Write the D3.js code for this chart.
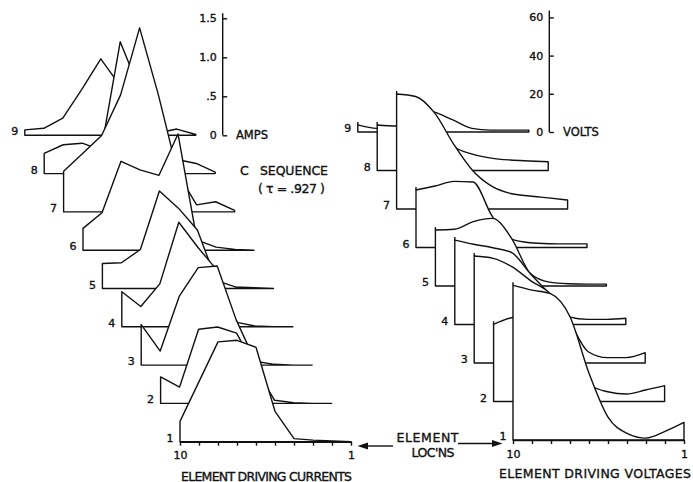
<!DOCTYPE html>
<meta charset="utf-8">
<script src="https://d3js.org/d3.v7.min.js"></script>
<style>
  body { margin: 0; background: #fff; }
  svg text { font-family: "DejaVu Sans", sans-serif; fill: #111; stroke: #111; stroke-width: 0.35px; }
  .prof { fill: #fff; stroke: #111; stroke-width: 1.4; stroke-linejoin: round; }
  .ax path, .ax line { stroke: #111; stroke-width: 1.4; }
</style>
<body>
<script>
// element locations, left (10) to right (1)
var elements = [10, 9, 8, 7, 6, 5, 4, 3, 2, 1];
var profiles = [1, 2, 3, 4, 5, 6, 7, 8, 9];

// element driving currents (amps), elements 10..1
var amps1 = [0.26, 0.77, 1.28, 1.30, 1.21, 0.39, 0.04, 0.02, 0.01, 0.00];
var amps2 = [0.34, 0.21, 0.95, 0.98, 0.90, 0.45, 0.04, 0.01, 0.00, 0.00];
var amps3 = [0.52, 0.18, 0.88, 1.25, 1.27, 0.58, 0.05, 0.01, 0.00, 0.00];
var amps4 = [0.45, 0.26, 0.55, 1.34, 1.02, 0.73, 0.06, 0.01, 0.00, 0.00];
var amps5 = [0.32, 0.33, 0.50, 1.25, 1.03, 0.75, 0.10, 0.02, 0.01, 0.00];
var amps6 = [0.28, 0.48, 1.14, 1.03, 0.96, 1.49, 0.13, 0.04, 0.01, 0.00];
var amps7 = [0.52, 0.75, 0.98, 1.50, 2.36, 1.49, 0.50, 0.09, 0.13, 0.02];
var amps8 = [0.26, 0.37, 0.39, 0.30, 1.69, 1.09, 0.60, 0.18, 0.13, 0.02];
var amps9 = [0.07, 0.09, 0.22, 0.59, 0.98, 0.64, 0.30, 0.03, 0.08, 0.01];
var currents = [amps1, amps2, amps3, amps4, amps5, amps6, amps7, amps8, amps9];

// element driving voltages (volts), elements 10..1
var volts1 = [81.0, 78.5, 76.5, 64.5, 35.0, 12.0, 3.5, 1.0, 4.5, 9.2];
var volts2 = [40.4, 44.0, 45.0, 40.0, 30.0, 9.0, 5.1, 3.9, 6.0, 8.3];
var volts3 = [56.0, 54.8, 50.3, 42.9, 36.3, 22.0, 5.9, 2.8, 2.8, 5.4];
var volts4 = [44.2, 42.0, 40.2, 37.6, 26.3, 15.8, 4.0, 2.7, 2.7, 3.3];
var volts5 = [29.3, 29.7, 33.7, 35.4, 25.1, 6.5, 2.0, 1.2, 1.0, 1.0];
var volts6 = [30.1, 32.2, 34.6, 34.3, 16.5, 4.5, 2.5, 2.0, 1.9, 1.9];
var volts7 = [60.2, 58.9, 50.3, 34.0, 20.2, 12.0, 8.1, 6.8, 5.8, 4.7];
var volts8 = [23.8, 23.3, 25.0, 28.0, 12.8, 8.6, 6.5, 5.5, 5.0, 4.6];
var volts9 = [3.7, 1.9, 2.5, 12.0, 10.5, 6.3, 1.9, 1.0, 1.0, 1.0];
var voltages = [volts1, volts2, volts3, volts4, volts5, volts6, volts7, volts8, volts9];

var ampTicks = [0, 0.5, 1.0, 1.5];
var ampTickLabels = ["0", ".5", "1.0", "1.5"];
var voltTicks = [0, 20, 40, 60];

var W = 693, H = 482;
var svg = d3.select("body").append("svg")
  .attr("width", W).attr("height", H);

// ---------- left panel: currents ----------
var xEl = d3.scaleLinear().domain([10, 1]).range([0, 171]);
var offL = d3.scaleLinear().domain([1, 9]).range([180, 24.8]);
var baseL = d3.scaleLinear().domain([1, 9]).range([441.7, 135.3]);
var hA = d3.scaleLinear().domain([0, 1.5]).range([0, 117]);

var gL = svg.append("g");
// draw back to front so nearer profiles hide the ones behind
profiles.slice().reverse().forEach(function(k) {
  var x0 = offL(k), b = baseL(k);
  var area = d3.area()
    .x(function(d, j) { return x0 + xEl(elements[j]); })
    .y0(b)
    .y1(function(d) { return b - hA(d); });
  gL.append("path").attr("class", "prof").attr("d", area(currents[k - 1]));
  gL.append("text")
    .attr("x", x0 - 10).attr("y", b - 3.5)
    .attr("text-anchor", "middle").attr("dominant-baseline", "central")
    .style("font-size", "11px").text(k);
});

// element axis under profile 1
var xAxL = d3.scaleLinear().domain([10, 1]).range([offL(1), offL(1) + 171]);
gL.append("g").attr("class", "ax")
  .attr("transform", "translate(0," + baseL(1) + ")")
  .call(d3.axisBottom(xAxL).tickValues(elements).tickSizeInner(4).tickSizeOuter(0)
    .tickPadding(6).tickFormat(function(d) { return (d === 10 || d === 1) ? d : ""; }))
  .call(function(g) { g.selectAll("text").style("font-size", "11px").attr("font-family", null); });

// amps axis
var yAmp = d3.scaleLinear().domain([0, 1.5]).range([baseL(9), baseL(9) - 117]);
gL.append("line").attr("x1", 222.7).attr("x2", 222.7)
  .attr("y1", yAmp(1.5) - 5).attr("y2", yAmp(0)).attr("stroke", "#111").attr("stroke-width", 1.4);
gL.append("g").attr("class", "ax")
  .attr("transform", "translate(222.7,0)")
  .call(d3.axisLeft(yAmp).tickValues(ampTicks).tickSizeInner(-4.5).tickSizeOuter(0).tickPadding(6)
    .tickFormat(function(d, i) { return ampTickLabels[i]; }))
  .call(function(g) { g.select(".domain").remove(); g.selectAll("text").style("font-size", "11px").attr("font-family", null); });
gL.append("text").attr("x", 236).attr("y", yAmp(0)).attr("dominant-baseline", "central")
  .style("font-size", "11.5px").text("AMPS");

gL.append("text").attr("x", 240).attr("y", 170).attr("dominant-baseline", "central")
  .style("font-size", "12.5px").text("C");
gL.append("text").attr("x", 260).attr("y", 170).attr("dominant-baseline", "central")
  .attr("textLength", 68).style("font-size", "12.5px").text("SEQUENCE");
gL.append("text").attr("x", 258).attr("y", 188.5).attr("dominant-baseline", "central")
  .attr("textLength", 67).style("font-size", "12.5px").text("( τ = .927 )");

gL.append("text").attr("x", 181).attr("y", 480.5)
  .attr("textLength", 171).attr("lengthAdjust", "spacing")
  .style("font-size", "12.5px").text("ELEMENT DRIVING CURRENTS");

// ---------- right panel: voltages ----------
var offR = d3.scaleLinear().domain([1, 9]).range([513, 357.8]);
var baseR = d3.scaleLinear().domain([1, 9]).range([440, 132]);
var hV = d3.scaleLinear().domain([0, 60]).range([0, 114.6]);

var gR = svg.append("g");
profiles.slice().reverse().forEach(function(k) {
  var x0 = offR(k), b = baseR(k), v = voltages[k - 1];
  var area = d3.area()
    .x(function(d, j) { return x0 + xEl(elements[j]); })
    .y0(b)
    .y1(function(d) { return b - hV(d); })
    .curve(d3.curveMonotoneX);
  gR.append("path").attr("class", "prof").attr("d", area(v));
  // the left edge runs a little past the curve
  gR.append("line").attr("x1", x0).attr("x2", x0)
    .attr("y1", b - hV(v[0])).attr("y2", b - hV(v[0]) - 3)
    .attr("stroke", "#111").attr("stroke-width", 1.4);
  gR.append("text")
    .attr("x", x0 - 10).attr("y", b - 3.5)
    .attr("text-anchor", "middle").attr("dominant-baseline", "central")
    .style("font-size", "11px").text(k);
});

var xAxR = d3.scaleLinear().domain([10, 1]).range([offR(1), offR(1) + 171]);
gR.append("g").attr("class", "ax")
  .attr("transform", "translate(0," + baseR(1) + ")")
  .call(d3.axisBottom(xAxR).tickValues(elements).tickSizeInner(4).tickSizeOuter(0)
    .tickPadding(6).tickFormat(function(d) { return (d === 10 || d === 1) ? d : ""; }))
  .call(function(g) { g.selectAll("text").style("font-size", "11px").attr("font-family", null); });

var yVolt = d3.scaleLinear().domain([0, 60]).range([baseR(9), baseR(9) - 114.6]);
gR.append("line").attr("x1", 549.3).attr("x2", 549.3)
  .attr("y1", yVolt(60) - 7).attr("y2", yVolt(0)).attr("stroke", "#111").attr("stroke-width", 1.4);
gR.append("g").attr("class", "ax")
  .attr("transform", "translate(549.3,0)")
  .call(d3.axisLeft(yVolt).tickValues(voltTicks).tickSizeInner(-4.5).tickSizeOuter(0).tickPadding(6)
    .tickFormat(d3.format("d")))
  .call(function(g) { g.select(".domain").remove(); g.selectAll("text").style("font-size", "11px").attr("font-family", null); });
gR.append("text").attr("x", 563).attr("y", yVolt(0)).attr("dominant-baseline", "central")
  .style("font-size", "11.5px").text("VOLTS");

gR.append("text").attr("x", 499).attr("y", 477.5)
  .attr("textLength", 192).attr("lengthAdjust", "spacing")
  .style("font-size", "12.5px").text("ELEMENT DRIVING VOLTAGES");

// element loc'ns with arrows
svg.append("text").attr("x", 427.5).attr("y", 437).attr("text-anchor", "middle")
  .attr("dominant-baseline", "central").attr("textLength", 62)
  .style("font-size", "12.5px").text("ELEMENT");
svg.append("text").attr("x", 433).attr("y", 452).attr("text-anchor", "middle")
  .attr("dominant-baseline", "central").attr("textLength", 43)
  .style("font-size", "12.5px").text("LOC'NS");
svg.append("line").attr("x1", 366).attr("x2", 393).attr("y1", 446).attr("y2", 446)
  .attr("stroke", "#111").attr("stroke-width", 1.4);
svg.append("path").attr("d", "M357.5,446L368,442.5L368,449.5Z").attr("fill", "#111");
svg.append("line").attr("x1", 458).attr("x2", 494).attr("y1", 443.5).attr("y2", 443.5)
  .attr("stroke", "#111").attr("stroke-width", 1.4);
svg.append("path").attr("d", "M502.5,443.5L492,440L492,447Z").attr("fill", "#111");
</script>
</body>
